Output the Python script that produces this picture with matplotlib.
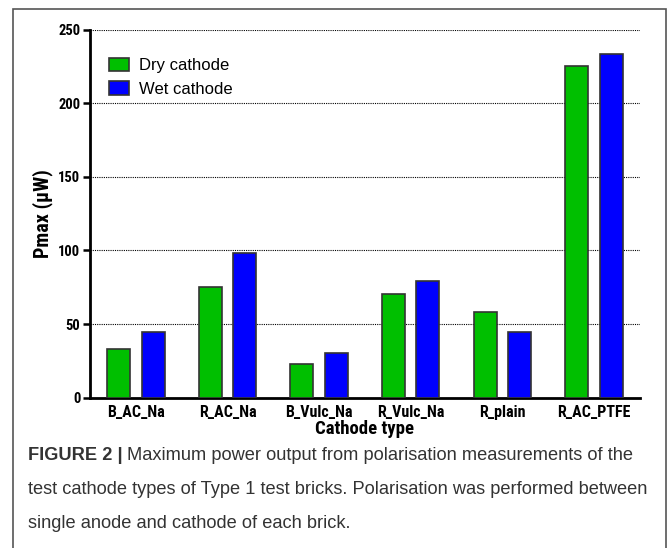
import numpy as np
import matplotlib.pyplot as plt
from matplotlib import font_manager

# Pmax per cathode type (uW)
cathodes = ['B_AC_Na', 'R_AC_Na', 'B_Vulc_Na', 'R_Vulc_Na', 'R_plain', 'R_AC_PTFE']
dry = [33.1, 75.0, 22.7, 70.4, 58.0, 225.1]
wet = [44.4, 98.5, 30.2, 79.3, 44.8, 233.3]
yticks = [0, 50, 100, 150, 200, 250]

# pick a condensed face with a bold weight for the axis text, if one is around
bold_cond = {f.name for f in font_manager.fontManager.ttflist
             if ('Narrow' in f.name or 'Condensed' in f.name)
             and f.weight in ('bold', 700, 'semibold', 600)}
prefs = ['Liberation Sans Narrow', 'Arial Narrow', 'Roboto Condensed',
         'Open Sans Condensed', 'DejaVu Sans Condensed', 'Noto Sans Condensed']
cond = [n for n in prefs if n in bold_cond] + sorted(bold_cond)
narrow = cond[:1] + ['Liberation Sans', 'DejaVu Sans']
shrink = 1.0 if cond else 0.8

plt.rcParams['font.family'] = ['Liberation Sans', 'DejaVu Sans']

fig = plt.figure(figsize=(6.72, 5.48), dpi=100)
ax = fig.add_axes([0.134, 0.2743, 0.818, 0.6715])

x = np.arange(len(cathodes))
w = 0.25
ax.bar(x - 0.188, dry, w, color='#00bf00', edgecolor='#333333', linewidth=1.2,
       label='Dry cathode', zorder=3)
ax.bar(x + 0.188, wet, w, color='#0000ff', edgecolor='#333333', linewidth=1.2,
       label='Wet cathode', zorder=3)

ax.set_xlim(-0.5, 5.5)
ax.set_ylim(0, 250)
ax.set_yticks(yticks)
ax.set_xticks(x)
ax.set_xticklabels(cathodes, family=narrow, fontweight='bold', fontsize=11.5 * shrink)
ax.set_yticklabels([str(v) for v in yticks], family=narrow, fontweight='bold',
                   fontsize=10.5 * shrink)
ax.tick_params(axis='x', length=0, pad=5)
ax.tick_params(axis='y', length=5, width=1.8, pad=2)
ax.yaxis.grid(True, linestyle=(0, (1, 1)), color='black', linewidth=0.8)
ax.set_axisbelow(True)
for s in ['top', 'right']:
    ax.spines[s].set_visible(False)
for s in ['left', 'bottom']:
    ax.spines[s].set_linewidth(2)

ax.set_xlabel('Cathode type', family=narrow, fontweight='bold', fontsize=13.5 * shrink,
              labelpad=0)
ax.set_ylabel('Pmax (μW)', family=narrow, fontweight='bold', fontsize=14.5 * shrink)
ax.yaxis.set_label_coords(-0.068, 0.5)

leg = ax.legend(loc='upper left', bbox_to_anchor=(0.008, 0.965), frameon=False,
                fontsize=12, handlelength=1.2, handleheight=0.85,
                handletextpad=0.6, labelspacing=0.5)

# outer frame of the figure panel
frame = plt.Rectangle((13 / 672, -0.05), (666 - 13) / 672, 1.05 - 9.3 / 548,
                      transform=fig.transFigure, fill=False,
                      edgecolor='#555555', linewidth=1.2)
fig.add_artist(frame)

# caption
cap_col = '#333333'
cap_size = 13.15
x0 = 28 / 672
t = fig.text(x0, 1 - 455 / 548, 'FIGURE 2 |', fontweight='bold', fontsize=cap_size,
             color=cap_col, va='center')
fig.canvas.draw()
bb = t.get_window_extent()
fig.text(bb.x1 / 672 + 0.006, 1 - 455 / 548,
         'Maximum power output from polarisation measurements of the',
         fontsize=cap_size, color=cap_col, va='center')
fig.text(x0, 1 - 489 / 548,
         'test cathode types of Type 1 test bricks. Polarisation was performed between',
         fontsize=cap_size, color=cap_col, va='center')
fig.text(x0, 1 - 523 / 548, 'single anode and cathode of each brick.',
         fontsize=cap_size, color=cap_col, va='center')

fig.savefig('out.png', dpi=100)
